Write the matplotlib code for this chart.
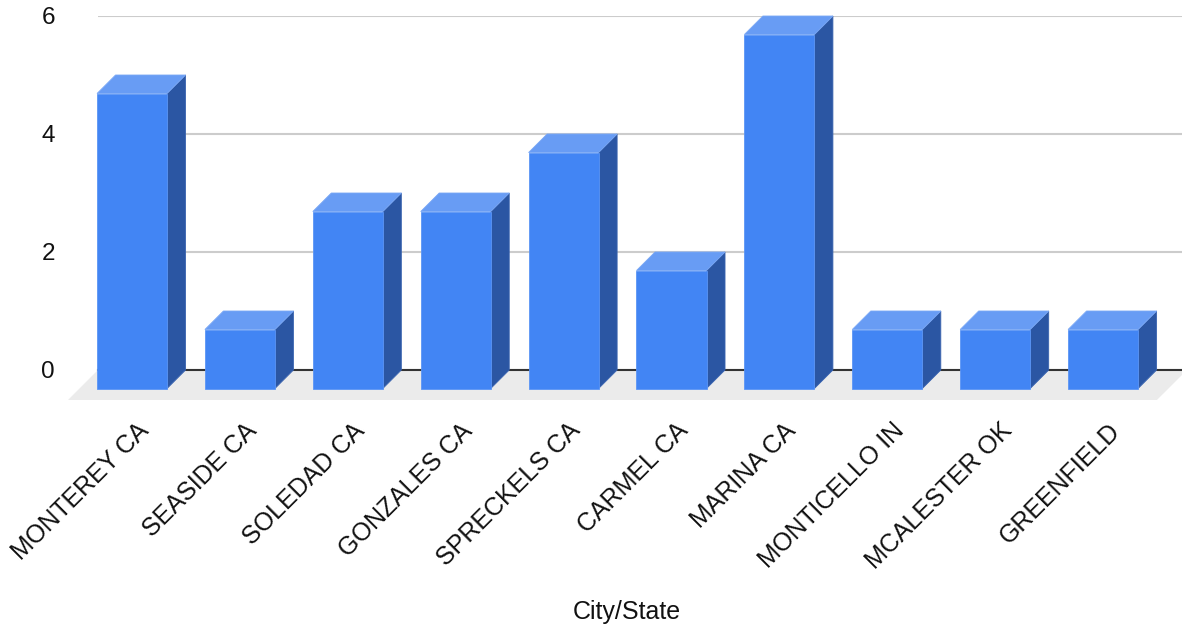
import matplotlib.pyplot as plt
from matplotlib.patches import Polygon
import numpy as np

plt.rcParams['font.family'] = ['Liberation Sans', 'DejaVu Sans']

cities = ['MONTEREY CA', 'SEASIDE CA', 'SOLEDAD CA', 'GONZALES CA', 'SPRECKELS CA',
          'CARMEL CA', 'MARINA CA', 'MONTICELLO IN', 'MCALESTER OK', 'GREENFIELD']
counts = [5, 1, 3, 3, 4, 2, 6, 1, 1, 1]
yticks = [0, 2, 4, 6]

# 3D look: front face shifted down-left from the back plane
bar_w = 0.649
dx, dy = 0.1715, 0.3136        # bar depth (category units, value units)
fdx, fdy = 0.278, 0.508        # floor depth

front_c = '#4285f4'
top_c = '#689cf4'
side_c = '#2b56a3'

fig = plt.figure(figsize=(11.82, 6.30), dpi=100)
ax = fig.add_axes([98 / 1182, 260 / 630, 1084 / 1182, 354 / 630])
ax.set_xlim(-0.487, 9.56)
ax.set_ylim(0, 6)

# floor
x0, x1 = -0.487, 9.606
floor = Polygon([(x0, 0), (x1, 0), (x1 - fdx, -fdy), (x0 - fdx, -fdy)],
                closed=True, facecolor='#ebebeb', edgecolor='none', clip_on=False, zorder=1)
ax.add_patch(floor)
ax.plot([-0.487, 9.56], [0, 0], color='#333333', lw=1.5, zorder=2, clip_on=False)

for i, v in enumerate(counts):
    l = i - bar_w / 2 - dx
    r = i + bar_w / 2 - dx
    front = Polygon([(l, -dy), (r, -dy), (r, v - dy), (l, v - dy)],
                    facecolor=front_c, edgecolor='#5b95f5', lw=0.6, clip_on=False, zorder=3)
    top = Polygon([(l, v - dy), (r, v - dy), (r + dx, v), (l + dx, v)],
                  facecolor=top_c, edgecolor='#7aa8f5', lw=0.6, clip_on=False, zorder=3)
    side = Polygon([(r, -dy), (r + dx, 0), (r + dx, v), (r, v - dy)],
                   facecolor=side_c, edgecolor='#3a64b0', lw=0.6, clip_on=False, zorder=3)
    for p in (side, top, front):
        ax.add_patch(p)

ax.set_yticks(yticks)
ax.set_yticklabels([str(t) for t in yticks])
ax.grid(axis='y', color='#cccccc', lw=1.5, zorder=0)
ax.set_axisbelow(True)
ax.tick_params(axis='y', length=0, pad=31, labelsize=17.5, labelcolor='#111111')

ax.set_xticks(np.arange(len(cities)) - 0.13)
ax.set_xticklabels(cities, rotation=45, ha='right', rotation_mode='anchor')
ax.tick_params(axis='x', length=0, pad=35, labelsize=18, labelcolor='#111111')

for s in ax.spines.values():
    s.set_visible(False)

fig.text(627 / 1182, 1 - 612 / 630, 'City/State', ha='center', va='center',
         fontsize=18, color='#111111')

fig.savefig('out.png', dpi=100, facecolor='white')
